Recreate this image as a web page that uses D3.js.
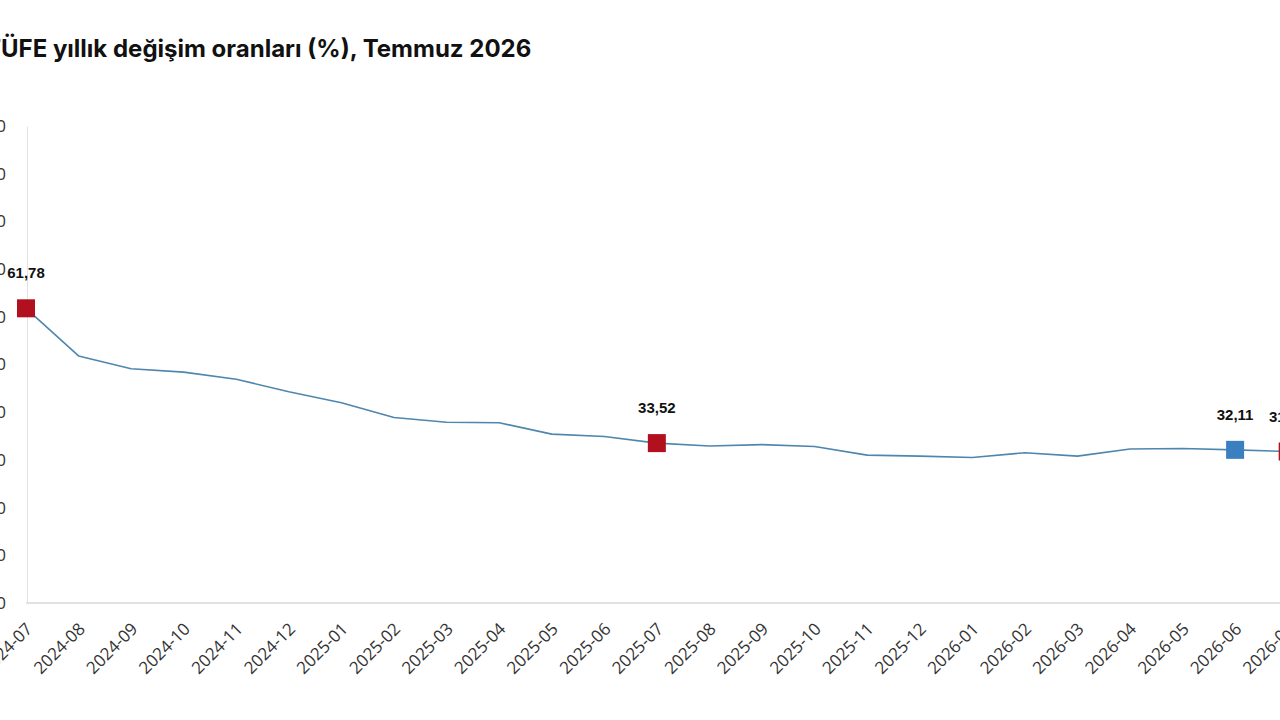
<!DOCTYPE html>
<html>
<head>
<meta charset="utf-8">
<script src="https://cdn.jsdelivr.net/npm/d3@7"></script>
<style>
  html, body { margin: 0; padding: 0; background: #fff; overflow: hidden; }
  svg { display: block; }
  .title { font-family: Inter, "Noto Sans", sans-serif; font-weight: 700; font-size: 24px; fill: #111; }
  .y-label { font-family: "Open Sans", sans-serif; font-size: 17px; fill: #333; }
  .x-label { font-family: "Open Sans", sans-serif; font-size: 17px; fill: #333; }
  .val-label { font-family: "Liberation Sans", Arial, sans-serif; font-weight: 700; font-size: 15px; fill: #111; }
</style>
</head>
<body>
<div id="chart-area"><svg></svg></div>
<script>
const months = [
  "2024-07", "2024-08", "2024-09", "2024-10", "2024-11", "2024-12",
  "2025-01", "2025-02", "2025-03", "2025-04", "2025-05", "2025-06",
  "2025-07", "2025-08", "2025-09", "2025-10", "2025-11", "2025-12",
  "2026-01", "2026-02", "2026-03", "2026-04", "2026-05", "2026-06",
  "2026-07"
];
const rates = [
  61.78, 51.8, 49.1, 48.4, 46.9, 44.3,
  42.0, 38.9, 37.9, 37.8, 35.4, 34.9,
  33.52, 32.9, 33.2, 32.8, 31.0, 30.8,
  30.5, 31.5, 30.8, 32.3, 32.4, 32.11,
  31.76
];
const yTicks = [0, 10, 20, 30, 40, 50, 60, 70, 80, 90, 100];
// highlighted points: month -> marker kind
const highlights = { "2024-07": "red", "2025-07": "red", "2026-06": "blue", "2026-07": "red" };
const titleText = "TÜFE yıllık değişim oranları (%), Temmuz 2026";

const chartSize = { width: 1280, height: 720 };
const plot = { left: 26, step: 52.57, top: 126, bottom: 603 };
const markerColors = { red: "#b20f1f", blue: "#3a7fbf" };
const fmt = v => v.toFixed(2).replace(".", ",");

const data = months.map((m, i) => ({ month: m, value: rates[i] }));

const svg = d3.select("#chart-area svg")
  .attr("width", chartSize.width)
  .attr("height", chartSize.height);

const x = d3.scalePoint()
  .domain(months)
  .range([plot.left, plot.left + plot.step * (months.length - 1)]);

const y = d3.scaleLinear()
  .domain([0, 100])
  .range([plot.bottom, plot.top]);

// title, first letter falls off the left edge like the reference crop
const title = svg.append("text")
  .attr("class", "title")
  .attr("y", 57)
  .text(titleText.charAt(0));
const firstW = title.node().getComputedTextLength();
title.attr("x", -firstW + 1).text(titleText);

// y axis
const yAxis = d3.axisLeft(y).tickValues(yTicks).tickSize(0).tickPadding(21);
const yG = svg.append("g")
  .attr("transform", `translate(${plot.left + 1},0)`)
  .call(yAxis);
yG.select(".domain").attr("stroke", "#e2e2e2").attr("stroke-width", 1);
yG.selectAll("text").attr("class", "y-label").attr("fill", null);

// x axis
const xAxis = d3.axisBottom(x).tickSize(0).tickFormat(d => d);
const xG = svg.append("g")
  .attr("transform", `translate(0,${plot.bottom})`)
  .call(xAxis);
xG.select(".domain")
  .attr("d", `M${plot.left},0H${chartSize.width + 20}`)
  .attr("stroke", "#e2e2e2").attr("stroke-width", 2);
xG.selectAll("text")
  .attr("class", "x-label")
  .attr("fill", null)
  .attr("text-anchor", "end")
  .attr("x", 0).attr("y", 0).attr("dy", null)
  .attr("transform", "translate(7,27) rotate(-45)");

// line
const line = d3.line()
  .x(d => x(d.month))
  .y(d => y(d.value));

svg.append("path")
  .datum(data)
  .attr("fill", "none")
  .attr("stroke", "#4f86ad")
  .attr("stroke-width", 1.6)
  .attr("stroke-linejoin", "round")
  .attr("d", line);

// highlighted markers
const marked = data.filter(d => highlights[d.month]);
const size = 18;

svg.selectAll("rect.marker")
  .data(marked)
  .enter().append("rect")
  .attr("class", "marker")
  .attr("x", d => x(d.month) - size / 2)
  .attr("y", d => y(d.value) - size / 2)
  .attr("width", size)
  .attr("height", size)
  .attr("fill", d => markerColors[highlights[d.month]]);

svg.selectAll("text.val-label")
  .data(marked)
  .enter().append("text")
  .attr("class", "val-label")
  .attr("x", d => x(d.month))
  .attr("y", d => y(d.value) - 30)
  .attr("text-anchor", "middle")
  .text(d => fmt(d.value));
</script>
</body>
</html>
